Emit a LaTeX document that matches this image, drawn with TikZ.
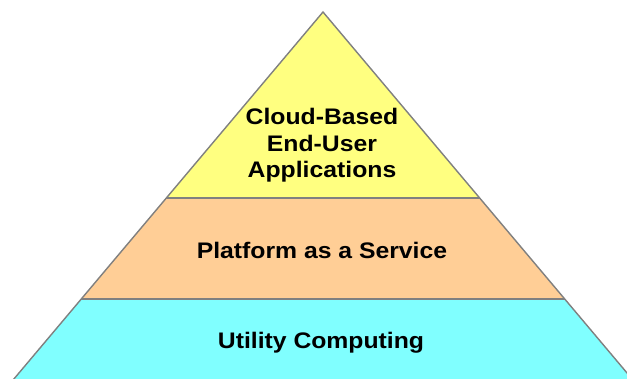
\documentclass[tikz,border=0pt]{standalone}
\usepackage{fontspec}
\setmainfont{Liberation Sans}
\definecolor{topfill}{RGB}{255,255,128}
\definecolor{midfill}{RGB}{255,206,150}
\definecolor{basefill}{RGB}{128,255,255}
\definecolor{edge}{RGB}{128,128,128}
\begin{document}
\begin{tikzpicture}[x=1pt,y=1pt,
  layertext/.style={font=\fontsize{22.5}{26.5}\selectfont\bfseries, align=center,
                    xscale=1.1, transform shape, inner sep=0pt},
  outline/.style={draw=edge, line width=1.4pt, line join=miter}]
\useasboundingbox (0,0) rectangle (627,378);
\clip (0,0) rectangle (627,378);
% corner points of the pyramid and its layer boundaries
\coordinate (apex) at (323,366);
\coordinate (ul) at (166,180);
\coordinate (ur) at (480,180);
\coordinate (ml) at (81,79);
\coordinate (mr) at (565,79);
\coordinate (bl) at (8,-8);
\coordinate (br) at (638,-8);
% layers
\fill[topfill] (apex) -- (ur) -- (ul) -- cycle;
\fill[midfill] (ul) -- (ur) -- (mr) -- (ml) -- cycle;
\fill[basefill] (ml) -- (mr) -- (br) -- (bl) -- cycle;
% dividers and outline
\draw[draw=edge, line width=1.2pt] (ul) -- (ur);
\draw[draw=edge, line width=1.2pt] (ml) -- (mr);
\draw[outline] (bl) -- (apex) -- (br);
% labels
\node[layertext] (apps) at (322,232.4) {Cloud-Based\\End-User\\Applications};
\node[layertext, anchor=base] (paas) at (322,119) {Platform as a Service};
\node[layertext, anchor=base] (utility) at (321,30) {Utility Computing};
\end{tikzpicture}
\end{document}
